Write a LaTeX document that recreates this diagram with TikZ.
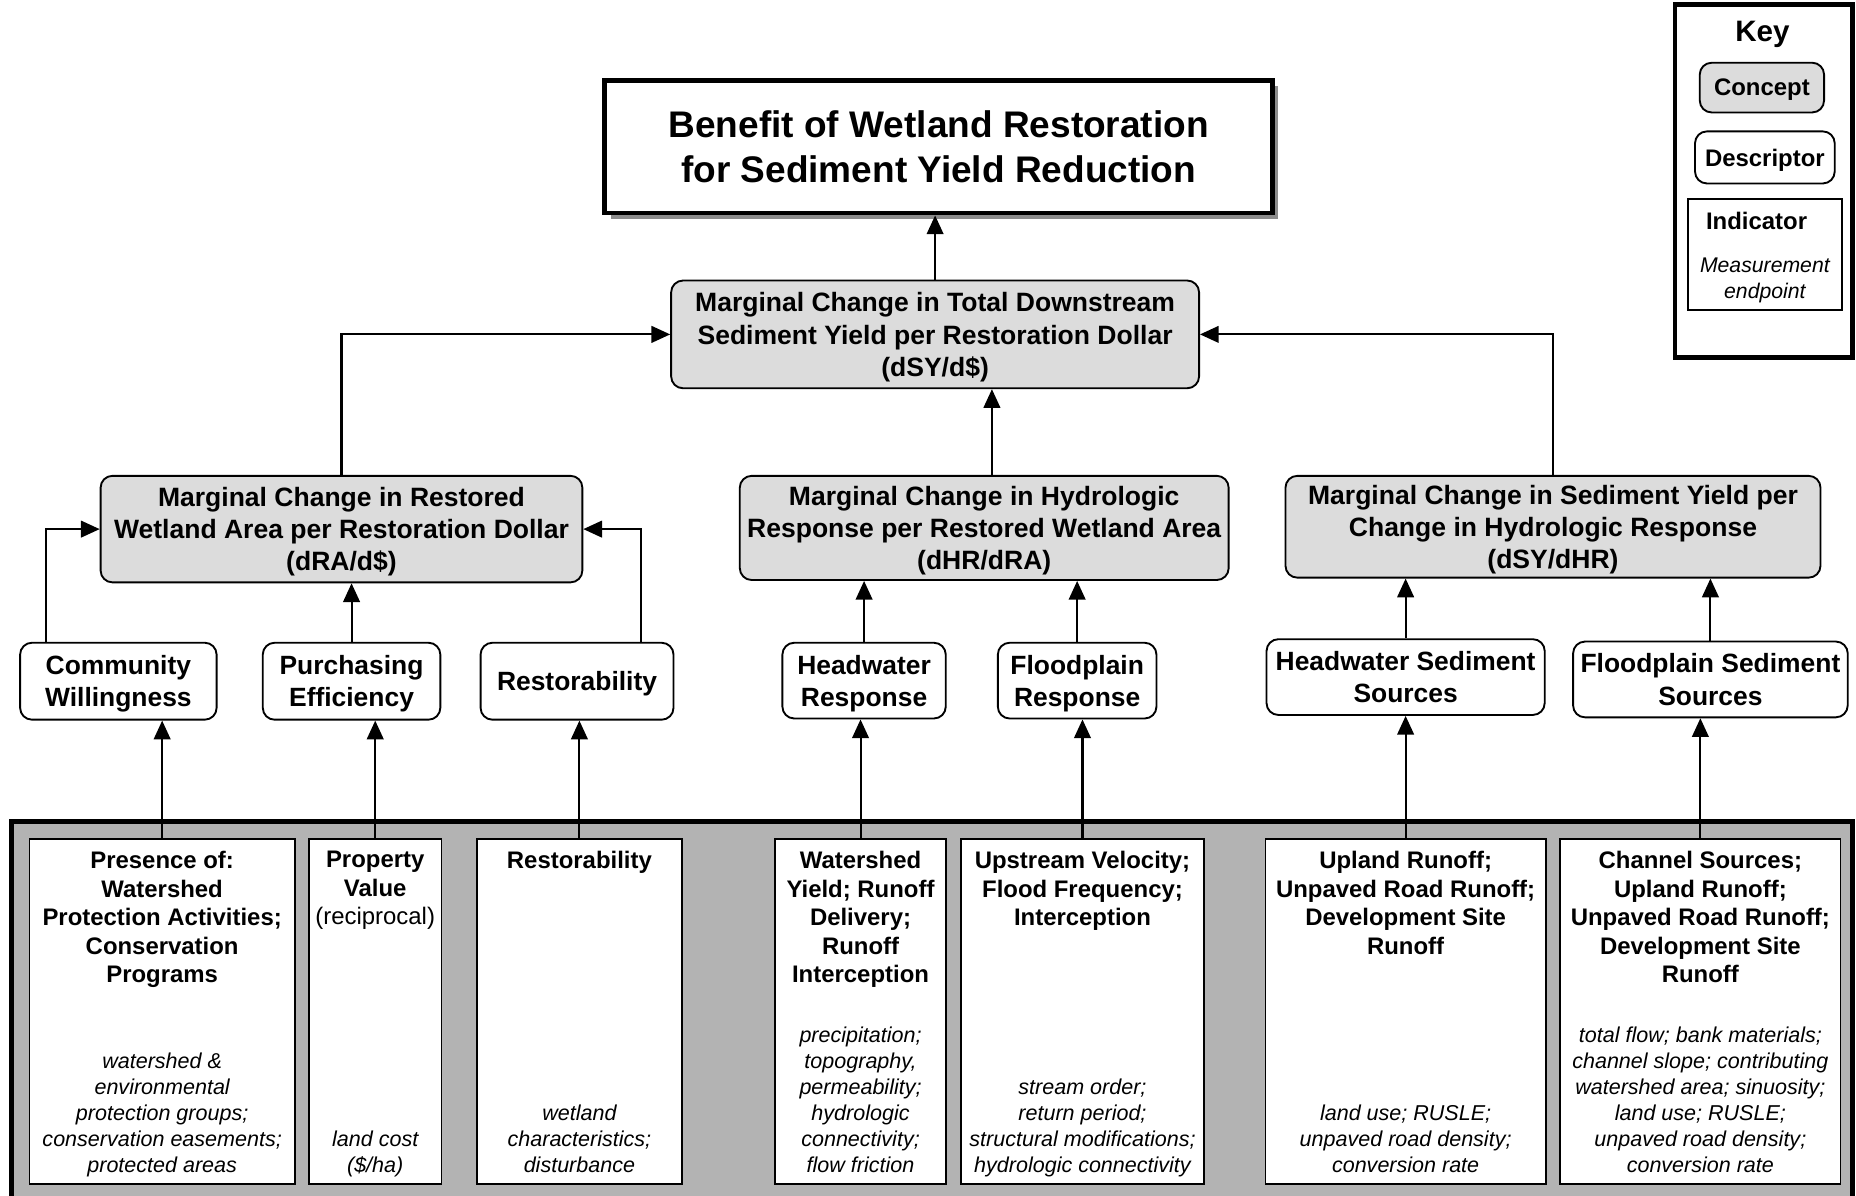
\documentclass[tikz,border=0pt]{standalone}
\usepackage{fontspec}
\setmainfont{Liberation Sans}
\usetikzlibrary{arrows.meta,shadows}

\definecolor{conceptgray}{HTML}{DCDCDC}
\definecolor{panelgray}{HTML}{B3B3B3}
\definecolor{shadowgray}{HTML}{8C8C8C}

\tikzset{
  goal/.style={draw, line width=2.3pt, fill=white, align=center, inner sep=0pt,
    font=\fontsize{17.8}{21.6}\selectfont\bfseries,
    drop shadow={shadow xshift=1mm, shadow yshift=-1mm, fill=shadowgray, opacity=1}},
  concept/.style={draw, rounded corners=2mm, fill=conceptgray, line width=0.9pt,
    align=center, inner sep=0pt, text depth=-3.5pt,
    font=\fontsize{12.75}{15.4}\selectfont\bfseries},
  descriptor/.style={draw, rounded corners=2mm, fill=white, line width=0.9pt,
    align=center, inner sep=0pt, text depth=-2pt,
    font=\fontsize{12.7}{15.4}\selectfont\bfseries},
  indicator/.style={draw, fill=white, line width=0.8pt, inner sep=0pt, minimum height=58.2mm},
  indhead/.style={anchor=north, align=center, inner sep=0pt,
    font=\fontsize{11.5}{13.7}\selectfont\bfseries},
  endpoint/.style={anchor=south, align=center, inner sep=0pt,
    font=\fontsize{10.35}{12.5}\selectfont\itshape},
  panel/.style={draw, line width=2.3pt, fill=panelgray},
  link/.style={line width=1pt, -{Triangle[length=9pt,width=8pt]}},
  keyfont/.style={font=\fontsize{11.5}{13.7}\selectfont\bfseries}
}

\begin{document}
\begin{tikzpicture}[x=0.2mm,y=-0.2mm]
  \useasboundingbox (0,0) rectangle (1568,1010);

  % goal and concepts
  \node[goal, minimum width=112.8mm, minimum height=22.4mm] (title) at (793,124)
    {Benefit of Wetland Restoration\\for Sediment Yield Reduction};
  \node[concept, minimum width=89.2mm, minimum height=18.2mm] (dsy) at (790,282.5)
    {Marginal Change in Total Downstream\\Sediment Yield per Restoration Dollar\\(dSY/d\$)};
  \node[concept, minimum width=81.4mm, minimum height=18mm] (dra) at (288.5,447)
    {Marginal Change in Restored\\Wetland Area per Restoration Dollar\\(dRA/d\$)};
  \node[concept, minimum width=82.6mm, minimum height=17.6mm] (dhr) at (831.5,446)
    {Marginal Change in Hydrologic\\Response per Restored Wetland Area\\(dHR/dRA)};
  \node[concept, minimum width=90.4mm, minimum height=17.2mm] (dsyhr) at (1312,445)
    {Marginal Change in Sediment Yield per\\Change in Hydrologic Response\\(dSY/dHR)};

  % descriptors
  \node[descriptor, minimum width=33.2mm, minimum height=13mm] (comm) at (100,575.5) {Community\\Willingness};
  \node[descriptor, minimum width=30mm, minimum height=13mm] (purch) at (297,575.5) {Purchasing\\Efficiency};
  \node[descriptor, minimum width=32.6mm, minimum height=13mm] (restor) at (487.5,575.5) {Restorability};
  \node[descriptor, minimum width=27.6mm, minimum height=12.8mm] (hwresp) at (730,575) {Headwater\\Response};
  \node[descriptor, minimum width=26.8mm, minimum height=12.8mm] (fpresp) at (910,575) {Floodplain\\Response};
  \node[descriptor, minimum width=47mm, minimum height=12.8mm] (hwsed) at (1187.5,572) {Headwater Sediment\\Sources};
  \node[descriptor, minimum width=46.4mm, minimum height=12.8mm] (fpsed) at (1445,574) {Floodplain Sediment\\Sources};

  % indicators
  \draw[panel] (10,694) rectangle (1565,1040);

  \node[indicator, minimum width=44.8mm] (presence) at (137,854.5) {};
  \node[indicator, minimum width=22.4mm] (property) at (317,854.5) {};
  \node[indicator, minimum width=34.6mm] (restind) at (489.5,854.5) {};
  \node[indicator, minimum width=28.8mm] (runoff) at (727,854.5) {};
  \node[indicator, minimum width=41mm] (velocity) at (914.5,854.5) {};
  \node[indicator, minimum width=47.4mm] (upland) at (1187.5,854.5) {};
  \node[indicator, minimum width=47.4mm] (channel) at (1436.5,854.5) {};

  \node[indhead] (presence-h) at ([yshift=-2.1mm]presence.north)
    {Presence of:\\Watershed\\Protection Activities;\\Conservation\\Programs};
  \node[endpoint] (presence-e) at ([yshift=0.7mm]presence.south)
    {watershed \&\\environmental\\protection groups;\\conservation easements;\\protected areas\strut};
  \node[indhead] (property-h) at ([yshift=-2.1mm]property.north)
    {Property\\Value\\\textmd{(reciprocal)}};
  \node[endpoint] (property-e) at ([yshift=0.7mm]property.south)
    {land cost\\(\$/ha)\strut};
  \node[indhead] (restind-h) at ([yshift=-2.1mm]restind.north) {Restorability};
  \node[endpoint] (restind-e) at ([yshift=0.7mm]restind.south)
    {wetland\\characteristics;\\disturbance\strut};
  \node[indhead] (runoff-h) at ([yshift=-2.1mm]runoff.north)
    {Watershed\\Yield; Runoff\\Delivery;\\Runoff\\Interception};
  \node[endpoint] (runoff-e) at ([yshift=0.7mm]runoff.south)
    {precipitation;\\topography,\\permeability;\\hydrologic\\connectivity;\\flow friction\strut};
  \node[indhead] (velocity-h) at ([yshift=-2.1mm]velocity.north)
    {Upstream Velocity;\\Flood Frequency;\\Interception};
  \node[endpoint] (velocity-e) at ([yshift=0.7mm]velocity.south)
    {stream order;\\return period;\\structural modifications;\\hydrologic connectivity\strut};
  \node[indhead] (upland-h) at ([yshift=-2.1mm]upland.north)
    {Upland Runoff;\\Unpaved Road Runoff;\\Development Site\\Runoff};
  \node[endpoint] (upland-e) at ([yshift=0.7mm]upland.south)
    {land use; RUSLE;\\unpaved road density;\\conversion rate\strut};
  \node[indhead] (channel-h) at ([yshift=-2.1mm]channel.north)
    {Channel Sources;\\Upland Runoff;\\Unpaved Road Runoff;\\Development Site\\Runoff};
  \node[endpoint] (channel-e) at ([yshift=0.7mm]channel.south)
    {total flow; bank materials;\\channel slope; contributing\\watershed area; sinuosity;\\land use; RUSLE;\\unpaved road density;\\conversion rate\strut};

  % connectors
  \draw[link] (presence.north) -- (presence.north |- comm.south);
  \draw[link] (property.north) -- (property.north |- purch.south);
  \draw[link] (restind.north) -- (restind.north |- restor.south);
  \draw[link] (runoff.north) -- (runoff.north |- hwresp.south);
  \draw[link] (velocity.north) -- (velocity.north |- fpresp.south);
  \draw[link] (upland.north) -- (upland.north |- hwsed.south);
  \draw[link] (channel.north) -- (channel.north |- fpsed.south);

  \draw[link] ([xshift=4.6mm]comm.north west) |- (dra.west);
  \draw[link] (purch.north) -- (purch.north |- dra.south);
  \draw[link] ([xshift=-5.6mm]restor.north east) |- (dra.east);
  \draw[link] (hwresp.north) -- (hwresp.north |- dhr.south);
  \draw[link] (fpresp.north) -- (fpresp.north |- dhr.south);
  \draw[link] (hwsed.north) -- (hwsed.north |- dsyhr.south);
  \draw[link] (fpsed.north) -- (fpsed.north |- dsyhr.south);

  \draw[link] (dra.north) |- (dsy.west);
  \draw[link] ([xshift=1.3mm]dhr.north) -- ([xshift=1.3mm]dhr.north |- dsy.south);
  \draw[link] (dsyhr.north) |- (dsy.east);
  \draw[link] (dsy.north) -- (dsy.north |- title.south);

  % key
  \node[draw, line width=2.3pt, minimum width=30mm, minimum height=59.6mm] (key) at (1490,153) {};
  \node[font=\fontsize{14.2}{16}\selectfont\bfseries] (keytitle) at (1489,29) {Key};
  \node[concept, keyfont, text depth=0pt, minimum width=21mm, minimum height=8.4mm] (keyconcept) at (1488.5,74) {Concept};
  \node[descriptor, keyfont, text depth=0pt, minimum width=23.6mm, minimum height=8.8mm] (keydescr) at (1491,133) {Descriptor};
  \node[indicator, minimum width=26mm, minimum height=18.8mm] (keyind) at (1491,215) {};
  \node[keyfont] (keyindtext) at ([xshift=-1.4mm,yshift=-3.8mm]keyind.north) {Indicator};
  \node[align=center, font=\fontsize{10.2}{12.5}\selectfont\itshape] (keyend) at ([yshift=5.2mm]keyind.south)
    {Measurement\\endpoint};
\end{tikzpicture}
\end{document}
